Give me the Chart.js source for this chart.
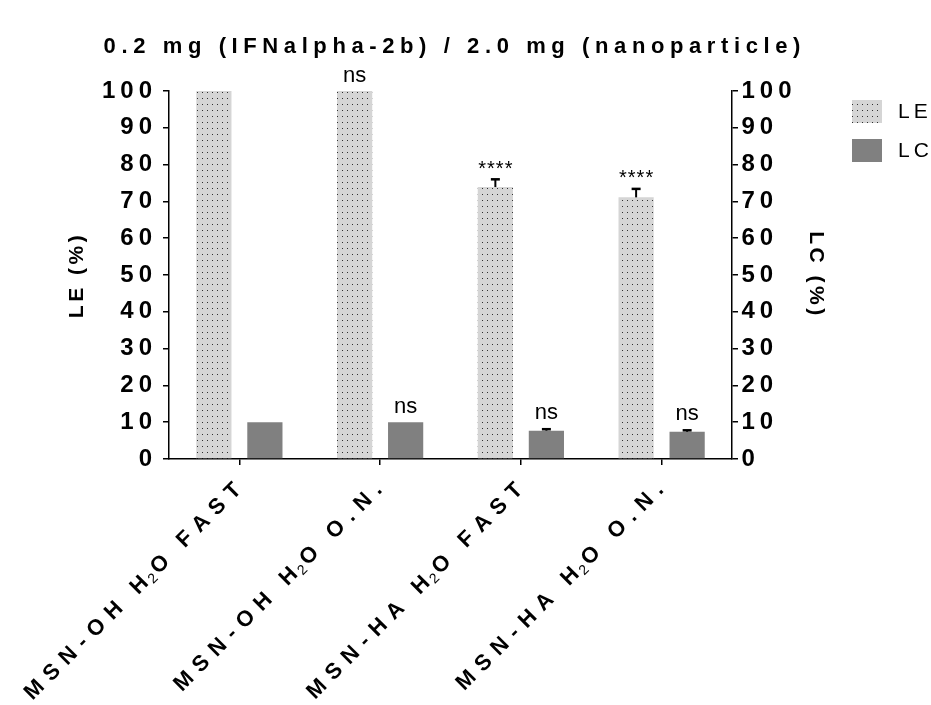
<!DOCTYPE html>
<html>
<head>
<meta charset="utf-8">
<script src="https://cdn.jsdelivr.net/npm/chart.js@4/dist/chart.umd.min.js"></script>
<style>
  html, body { margin: 0; padding: 0; background: #fff; }
  #wrap { width: 931px; height: 705px; position: relative; }
</style>
</head>
<body>
<div id="wrap"><canvas id="c"></canvas></div>
<script>
// Loading efficiency (LE) and loading capacity (LC) per formulation
const categories = ['MSN-OH H\u2082O FAST', 'MSN-OH H\u2082O O.N.', 'MSN-HA H\u2082O FAST', 'MSN-HA H\u2082O O.N.'];
const leValues = [100, 100, 73.9, 71.1];
const leErrors = [0, 0, 2.1, 2.3];
const lcValues = [10, 10, 7.7, 7.4];
const lcErrors = [0, 0, 0.4, 0.4];
const leMarks = ['', 'ns', '****', '****'];
const lcMarks = ['', 'ns', 'ns', 'ns'];
const seriesNames = ['LE', 'LC'];
const axisTitles = ['LE (%)', 'LC (%)'];
const yMin = 0, yMax = 100, yStep = 10;
const chartTitle = '0.2 mg (IFNalpha-2b) / 2.0 mg (nanoparticle)';

const FONT = "'Liberation Sans', Arial, Helvetica, sans-serif";
const canvas = document.getElementById('c');
const ctx = canvas.getContext('2d');

// light grey fill with a fine grid of dark dots
function dotPattern() {
  const t = document.createElement('canvas');
  t.width = 5; t.height = 6;
  const g = t.getContext('2d');
  g.fillStyle = '#d5d5d5';
  g.fillRect(0, 0, 5, 6);
  g.fillStyle = '#2e2e2e';
  g.fillRect(2, 2, 1, 1);
  return ctx.createPattern(t, 'repeat');
}
const leFill = dotPattern();
const lcFill = '#808080';

// wrap a scale's label/title drawing so its text gets letter spacing
function spaceScale(scale, tickLS, titleLS) {
  if (scale.$spaced) return;
  scale.$spaced = true;
  const drawLabels = scale.drawLabels;
  const drawTitle = scale.drawTitle;
  scale.drawLabels = function (area) {
    const c = this.ctx; c.save(); c.letterSpacing = tickLS; drawLabels.call(this, area); c.restore();
  };
  scale.drawTitle = function () {
    const c = this.ctx; c.save(); c.letterSpacing = titleLS; drawTitle.call(this); c.restore();
  };
}

function spacedText(c, text, x, y, ls, align) {
  c.letterSpacing = ls + 'px';
  const w = c.measureText(text).width - ls;
  let x0 = x;
  if (align === 'center') x0 = x - w / 2;
  else if (align === 'right') x0 = x - w;
  c.textAlign = 'left';
  c.fillText(text, x0, y);
  c.letterSpacing = '0px';
}

// category label with the "₂" drawn as a real subscript, rotated 45°,
// right end of the baseline placed at (x, y)
const LABEL_SIZE = 22, LABEL_LS = 8, SUB_GAP = 2.5, WORD_GAP = 6;
function drawCategoryLabel(c, text, x, y) {
  const boldFont = 'bold ' + LABEL_SIZE + 'px ' + FONT;
  const subFont = Math.round(LABEL_SIZE * 0.62) + 'px ' + FONT;
  // one run per character, so the gaps around the subscript and spaces can differ
  const runs = Array.from(text).map(ch => ch === '\u2082'
    ? { t: '2', sub: true } : { t: ch, sub: false });
  c.letterSpacing = '0px';
  runs.forEach((r, i) => {
    c.font = r.sub ? subFont : boldFont;
    r.w = c.measureText(r.t).width;
    const next = runs[i + 1];
    if (!next) r.gap = 0;
    else if (r.t === ' ') r.gap = WORD_GAP;
    else if (r.sub || next.sub) r.gap = SUB_GAP;
    else r.gap = LABEL_LS;
  });
  const total = runs.reduce((s, r) => s + r.w + r.gap, 0);
  c.save();
  c.translate(x, y);
  c.rotate(-Math.PI / 4);
  c.textAlign = 'left';
  c.textBaseline = 'alphabetic';
  c.fillStyle = '#000';
  let cx = -total;
  runs.forEach(r => {
    c.font = r.sub ? subFont : boldFont;
    c.fillText(r.t, cx, r.sub ? 3 : 0);
    cx += r.w + r.gap;
  });
  c.restore();
}

const annotations = {
  id: 'annotations',
  afterDatasetsDraw(chart) {
    const c = chart.ctx;
    const sets = [
      { values: leValues, errors: leErrors, marks: leMarks, scale: chart.scales.y, meta: chart.getDatasetMeta(0) },
      { values: lcValues, errors: lcErrors, marks: lcMarks, scale: chart.scales.y1, meta: chart.getDatasetMeta(1) }
    ];
    c.save();
    sets.forEach(s => {
      s.meta.data.forEach((bar, j) => {
        const top = s.scale.getPixelForValue(s.values[j]);
        let markTop = top;
        const e = s.errors[j];
        if (e > 0) {
          const ey = s.scale.getPixelForValue(s.values[j] + e);
          c.strokeStyle = '#000';
          c.lineWidth = 2;
          c.beginPath(); c.moveTo(bar.x, top); c.lineTo(bar.x, ey); c.stroke();
          c.lineWidth = 2.5;
          c.beginPath(); c.moveTo(bar.x - 4.5, ey); c.lineTo(bar.x + 4.5, ey); c.stroke();
          markTop = ey - 1.5;
        }
        const m = s.marks[j];
        if (m) {
          c.fillStyle = '#000';
          c.textBaseline = 'alphabetic';
          const stars = m.indexOf('*') >= 0;
          c.font = (stars ? '20px ' : '22px ') + FONT;
          c.letterSpacing = stars ? '1px' : '0px';
          const mt = c.measureText(m);
          const base = markTop - 9 - mt.actualBoundingBoxDescent;
          spacedText(c, m, bar.x, base, stars ? 1 : 0, 'center');
        }
      });
    });
    c.restore();
  },
  afterDraw(chart) {
    const c = chart.ctx;
    c.save();
    // category labels below the x axis
    const xs = chart.scales.x;
    categories.forEach((label, i) => {
      drawCategoryLabel(c, label, xs.getPixelForTick(i) + 3, xs.top + 32);
    });
    c.fillStyle = '#000';
    c.textBaseline = 'middle';
    c.font = 'bold 22px ' + FONT;
    spacedText(c, chartTitle, 452, 47, 5.6, 'center');
    // legend
    chart.data.datasets.forEach((ds, i) => {
      const y0 = 100 + i * 39;
      c.fillStyle = ds.backgroundColor;
      c.fillRect(852, y0, 30, 23);
      c.fillStyle = '#000';
      c.font = '21px ' + FONT;
      c.textBaseline = 'middle';
      spacedText(c, ds.label, 898, y0 + 12, 4, 'left');
    });
    c.restore();
  }
};

const axisLine = { color: '#000', width: 1.5 };
const tickMarks = { drawOnChartArea: false, drawTicks: true, tickLength: 6, color: '#000', lineWidth: 1.5 };
const tickFont = { family: FONT, size: 24, weight: 'bold' };
const titleFont = { family: FONT, size: 21, weight: 'bold' };

new Chart(ctx, {
  type: 'bar',
  data: {
    labels: categories,
    datasets: [
      { label: seriesNames[0], data: leValues, backgroundColor: leFill, yAxisID: 'y',
        categoryPercentage: 0.725, barPercentage: 0.69 },
      { label: seriesNames[1], data: lcValues, backgroundColor: lcFill, yAxisID: 'y1',
        categoryPercentage: 0.725, barPercentage: 0.69 }
    ]
  },
  options: {
    responsive: true,
    maintainAspectRatio: false,
    animation: false,
    events: [],
    layout: { padding: { top: 91, left: 0, right: 0, bottom: 0 } },
    plugins: { legend: { display: false }, title: { display: false }, tooltip: { enabled: false } },
    scales: {
      x: {
        offset: true,
        border: axisLine,
        grid: Object.assign({ offset: false }, tickMarks),
        ticks: { display: false, autoSkip: false },
        afterFit(scale) { scale.height = 246; }
      },
      y: {
        position: 'left', min: yMin, max: yMax,
        border: axisLine,
        grid: tickMarks,
        ticks: { stepSize: yStep, padding: 6, color: '#000', font: tickFont },
        title: { display: true, text: axisTitles[0], color: '#000', font: titleFont,
          padding: { top: 65, bottom: 0 } },
        afterFit(scale) { scale.width = 169; spaceScale(scale, '5px', '3.5px'); }
      },
      y1: {
        position: 'right', min: yMin, max: yMax,
        border: axisLine,
        grid: tickMarks,
        ticks: { stepSize: yStep, padding: 3.5, color: '#000', font: tickFont },
        title: { display: true, text: axisTitles[1], color: '#000', font: titleFont,
          padding: { top: 103, bottom: 0 } },
        afterFit(scale) { scale.width = 199; spaceScale(scale, '5px', '3.5px'); }
      }
    }
  },
  plugins: [annotations]
});
</script>
</body>
</html>
